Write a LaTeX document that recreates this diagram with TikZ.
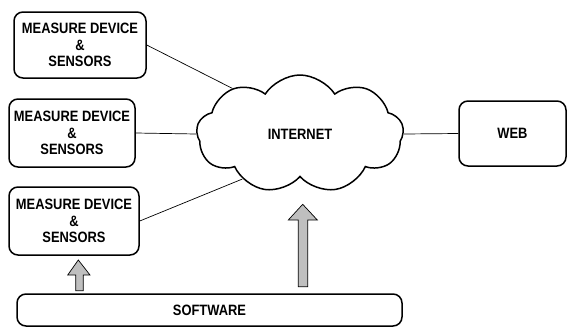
\documentclass[tikz,border=0pt]{standalone}
\usepackage{fontspec}
\setmainfont{Liberation Sans}[FakeStretch=0.86]
\usetikzlibrary{shapes.symbols,calc}
\begin{document}
\begin{tikzpicture}[x=1pt,y=-1pt,
  devbox/.style={draw,line width=1.5pt,rounded corners=9pt,fill=white,align=center,
    font=\fontsize{15}{16.7}\selectfont\bfseries,inner sep=0pt},
  link/.style={line width=0.7pt},
  blockarrow/.style={draw,line width=0.7pt,fill=black!25,line join=miter}]
\useasboundingbox (0,0) rectangle (568,327);
\node[devbox,minimum width=132,minimum height=66] (d1) at (80,45) {MEASURE DEVICE\\\&\\SENSORS};
\node[devbox,minimum width=126,minimum height=68] (d2) at (72,133) {MEASURE DEVICE\\\&\\SENSORS};
\node[devbox,minimum width=130,minimum height=68] (d3) at (74,221) {MEASURE DEVICE\\\&\\SENSORS};
\node[devbox,minimum width=107,minimum height=65] (web) at (512.5,133.5) {WEB};
\node[devbox,minimum width=385,minimum height=32] (sw) at (209.5,310) {SOFTWARE};
\node[cloud,draw,line width=1.5pt,fill=white,cloud puffs=9,cloud puff arc=115,
  minimum width=207,minimum height=118,aspect=1.75,
  font=\fontsize{15}{16.7}\selectfont\bfseries] (net) at (300,134) {INTERNET};
\draw[link] (d1.east) -- (net.146);
\draw[link] (d2.east) -- (net.west);
\draw[link] (d3.east) -- (net.218);
\draw[link] (net.east) -- (web.west);
% small block arrow
\draw[blockarrow] (75.7,290.7) -- (75.7,275) -- (67.7,275) -- (78.3,260) -- (90,275) -- (83.3,275) -- (83.3,290.7) -- cycle;
% big block arrow
\draw[blockarrow] (298.3,286.7) -- (298.3,220) -- (288.3,220) -- (302.7,204.3) -- (317.3,220) -- (307.7,220) -- (307.7,286.7) -- cycle;
\end{tikzpicture}
\end{document}
